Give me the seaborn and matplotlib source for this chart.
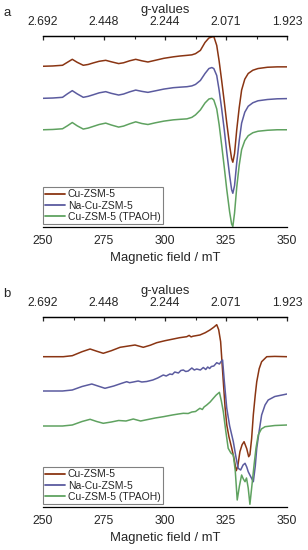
import numpy as np
import matplotlib
matplotlib.use('Agg')
import matplotlib.pyplot as plt
from matplotlib.ticker import MultipleLocator
import seaborn as sns

# EPR spectra (arbitrary units, each trace relative to its own baseline)
names = ['Cu-ZSM-5', 'Na-Cu-ZSM-5', 'Cu-ZSM-5 (TPAOH)']
colors = ['#8A3513', '#5B5B9F', '#5FA260']

field_ticks = [250, 275, 300, 325, 350]
g_labels = ['2.692', '2.448', '2.244', '2.071', '1.923']

# panel a
field_a = [250, 254, 258, 260, 262, 264, 266.5, 268.5, 270.5, 273, 275.7, 278, 281, 283, 285.5,
           288, 290.5, 293, 296, 299.5, 303.4, 306, 309, 311, 312.5, 314.5, 316.4, 318, 319.2, 320,
           321.2, 322.2, 323.2, 324.3, 325.3, 326.5, 327.3, 327.8, 328.5, 329.4, 330.4, 331.4,
           332.7, 334.1, 336, 338.1, 342, 346, 350]
cu_a = [0, 0.3, 1, 4, 7, 4, 1, 1.8, 3.3, 5, 6, 4.5, 2.7, 3.5, 5.5,
        7, 5.5, 4.3, 6, 8, 9.5, 10.3, 11, 11.5, 12.7, 16, 24, 28.5, 29.5, 30,
        21, 5, -14, -36, -57, -80, -93, -96.7, -88, -64, -42, -24,
        -13, -7.3, -4, -2.3, -1, -0.6, -0.6]
na_a = [0, 0.3, 1, 4.5, 7.7, 4.5, 1, 2, 3.5, 5.5, 6.7, 5, 3.3, 4.3, 6.5,
        8.3, 7, 6, 7.5, 9.3, 10.7, 11.2, 11.7, 12.5, 14, 18, 25, 30, 31, 30,
        23, 8, -10, -32, -54, -78, -92, -95.7, -88, -65, -43, -25,
        -14, -8, -4.5, -2.5, -1.2, -0.5, -0.3]
tp_a = [0, 0.3, 1, 4, 7.3, 4, 0.7, 1.7, 3.3, 5.3, 6.7, 4.8, 2.7, 3.7, 6,
        8, 6.3, 5.3, 7, 8.7, 10, 10.5, 11, 12.5, 15, 20, 27, 31, 31.7, 30,
        21, 5, -15, -38, -60, -83, -95, -97.5, -84, -58, -36, -20,
        -11, -6, -3, -1.5, -0.5, 0, 0]

# panel b
field_b_cu = [250, 258.3, 262, 266, 269.3, 272, 274.7, 278, 281.6, 284.5, 287.7, 291.1, 294, 296.6,
              300, 303.4, 306, 308.9, 309.9, 310.7, 311.5, 314.3, 316.5, 318.4, 320, 321.2, 322,
              322.8, 323.9, 324.6, 325.3, 326.2, 327.3, 328.3, 329.2, 329.8, 330.7, 331.6, 332.4,
              333.5, 334.3, 334.8, 335.5, 336.2, 337, 337.6, 338.6, 339.6, 341.7, 345, 350]
cu_b = [0, 0, 1, 5, 7.7, 5.5, 3.4, 6, 9.4, 10.5, 11.7, 9.4, 11.5, 14,
        16, 17.7, 19, 20, 21.3, 19.8, 20.5, 21.7, 24, 26.7, 29.5, 32, 27,
        15, -25, -50, -68, -80, -91, -102, -114, -110, -95, -88, -85,
        -92, -100, -98, -82, -58, -38, -25, -12, -5, 0, 0.3, 0]

field_b_na = [250, 258, 262, 266, 270, 272.5, 275.4, 279, 282, 284.3, 285.5, 287, 289, 290.5, 292.5,
              295, 297, 299.3, 300.5, 302, 303, 304, 305.5, 306.5, 307.5, 308.5, 309.5, 311, 312,
              313, 314.5, 315.7, 316.7, 317.5, 318.3, 319, 320, 321.2, 322.3, 323, 323.6, 324.3,
              325.3, 326.5, 328, 329, 330, 331, 332, 332.8, 333.5, 334.1, 335.2, 336.2, 337,
              337.6, 338.6, 339.6, 341, 342.3, 345, 350]
na_b = [0, 0, 1, 4.5, 7, 5, 2.7, 5, 7.5, 9.3, 8.3, 9, 10, 9, 9.5,
        11, 13, 16, 15, 17, 16.5, 19, 18, 20.5, 21, 19.5, 20, 23, 21,
        22, 21, 23.5, 21.5, 24, 22.5, 24.5, 25, 28.3, 27, 29.5, 31, 10,
        -17, -35, -50.7, -65, -77.3, -79, -74, -72.3, -76, -80.7, -86, -90.7, -75,
        -57.3, -40, -24, -14, -9, -5.5, -3]

field_b_tp = [250, 258, 262, 266, 269.3, 272, 274.7, 278, 281, 284, 287, 290, 293, 296, 299.3,
              303, 305.5, 307.5, 309.5, 311, 312.5, 314.3, 315.3, 316, 317.1, 318.5, 319.8, 321,
              322.3, 323.1, 323.9, 324.9, 325.9, 327, 328, 328.8, 329.6, 330.5, 331.4, 332.1,
              332.8, 333.4, 334.1, 334.8, 335.6, 336.5, 337.3, 338.2, 339.5, 341, 345, 350]
tp_b = [0, 0, 1, 4.5, 6.7, 4.5, 2.7, 4, 5.5, 5, 7, 5, 6.5, 8, 9.3,
        11, 12, 12.7, 12.5, 14, 14.5, 17.7, 16.5, 19, 21, 24, 27.7, 31,
        33.7, 25, 14.3, -5, -22.3, -27, -29, -45, -74, -60, -49, -53,
        -55.7, -52, -62, -78.3, -60, -39, -22, -9, -3, -0.7, 0.5, 1]

panels = [
    dict(label='a', rect=[43, 36, 287, 227], ylim=(-162, 30.5), offsets=[0, -32.3, -64],
         traces=[(field_a, cu_a), (field_a, na_a), (field_a, tp_a)]),
    dict(label='b', rect=[43, 317, 287, 507], ylim=(-150.3, 39.7), offsets=[0, -34.3, -69.3],
         traces=[(field_b_cu, cu_b), (field_b_na, na_b), (field_b_tp, tp_b)]),
]

sns.set_style('white')
plt.rcParams['font.family'] = ['Liberation Sans', 'DejaVu Sans']

W, H = 308, 550
fig = plt.figure(figsize=(W / 100, H / 100), dpi=100)

for p in panels:
    x0, y0, x1, y1 = p['rect']
    ax = fig.add_axes([x0 / W, 1 - y1 / H, (x1 - x0) / W, (y1 - y0) / H])
    for (x, y), off, c, n in zip(p['traces'], p['offsets'], colors, names):
        sns.lineplot(x=x, y=np.array(y) + off, ax=ax, color=c, label=n,
                     linewidth=1.1, estimator=None, sort=False)
    ax.set_xlim(250, 350)
    ax.set_ylim(*p['ylim'])
    ax.set_yticks([])
    for s in ['left', 'right']:
        ax.spines[s].set_visible(False)
    for s in ['top', 'bottom']:
        ax.spines[s].set_color('black')
        ax.spines[s].set_linewidth(0.9)
    ax.set_xticks(field_ticks)
    ax.xaxis.set_minor_locator(MultipleLocator(12.5))
    ax.tick_params(axis='x', which='both', direction='in', labelsize=8.8, pad=5.5, color='black')
    ax.tick_params(axis='x', which='major', length=3, width=0.9)
    ax.tick_params(axis='x', which='minor', length=1.8, width=0.8)
    ax.set_xlabel('Magnetic field / mT', fontsize=9.4, labelpad=4)
    ax.set_ylabel('')

    sec = ax.secondary_xaxis('top')
    sec.set_xticks(field_ticks, labels=g_labels)
    sec.xaxis.set_minor_locator(MultipleLocator(12.5))
    sec.tick_params(axis='x', which='both', direction='in', labelsize=8.8, pad=5.5)
    sec.tick_params(axis='x', which='major', length=3, width=0.9)
    sec.tick_params(axis='x', which='minor', length=1.8, width=0.8)
    sec.spines['top'].set_linewidth(0.9)
    sec.set_xlabel('g-values', fontsize=9.4, labelpad=2.5)

    leg = ax.legend(loc='lower left', bbox_to_anchor=(0, 0.016), borderaxespad=0,
                    fontsize=7.5, frameon=True, fancybox=False, framealpha=1,
                    edgecolor='#808080', handlelength=1.9, handletextpad=0.3,
                    labelspacing=0.12, borderpad=0.2)
    leg.get_frame().set_linewidth(0.8)
    for h in leg.get_lines():
        h.set_linewidth(1.3)

    fig.text(3 / W, 1 - (y0 - 23) / H, p['label'], fontsize=9.5, va='center', ha='left')

fig.savefig('out.png', dpi=100)
